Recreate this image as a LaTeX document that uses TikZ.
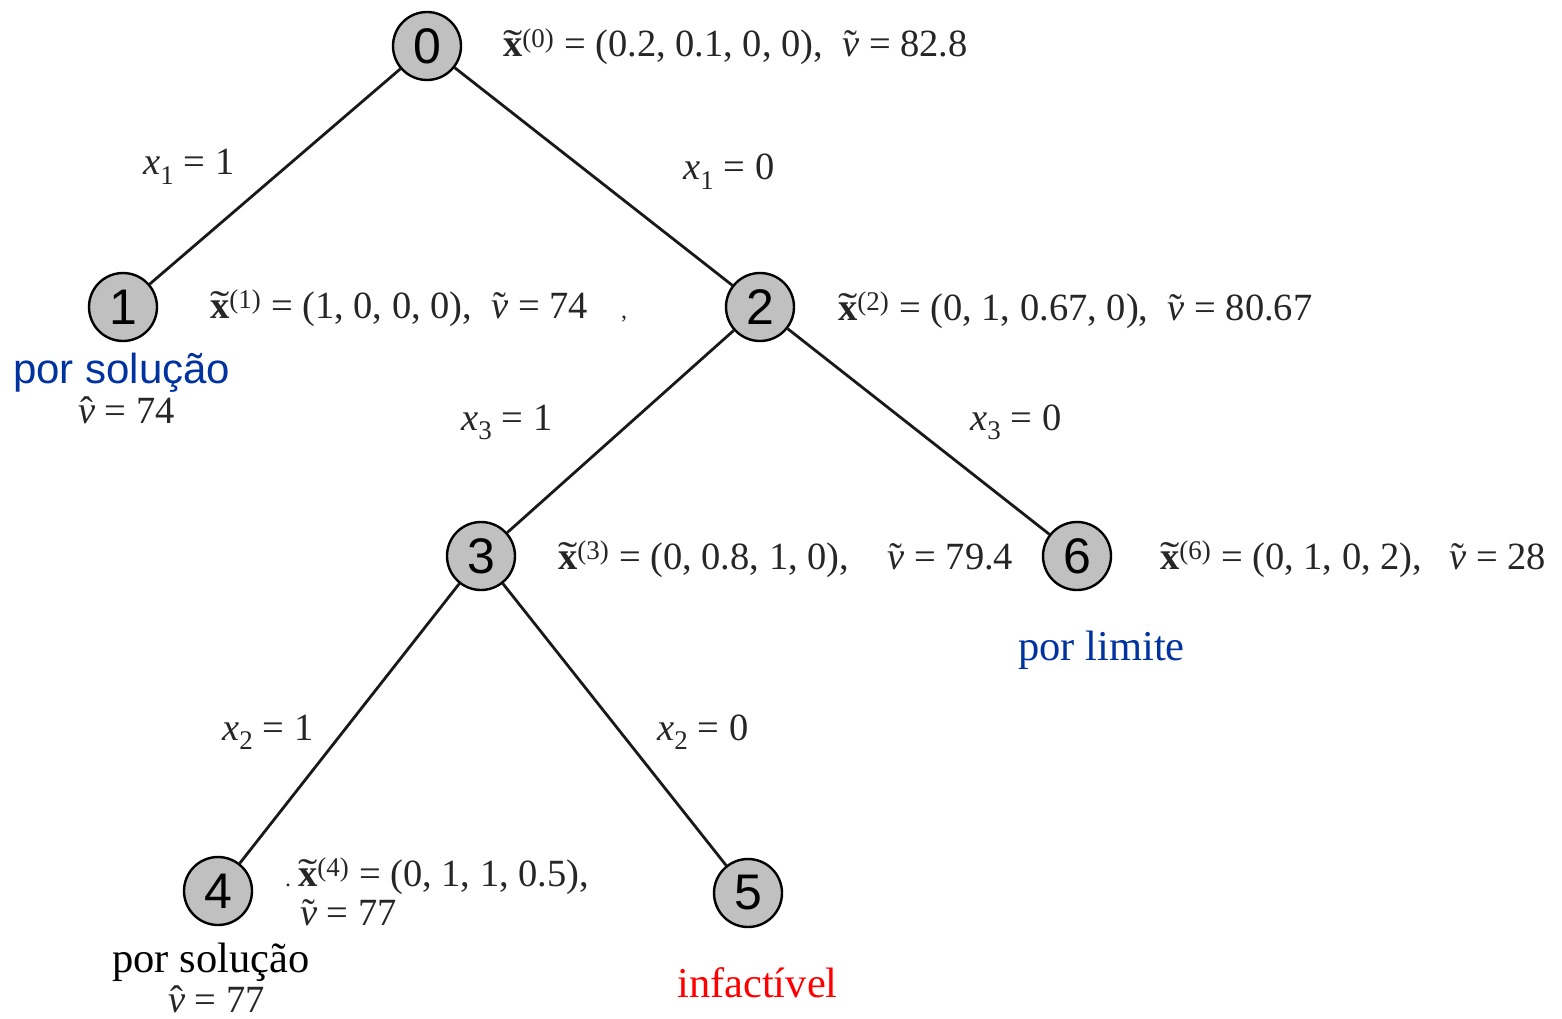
\documentclass[tikz,border=0pt]{standalone}
\usepackage{graphicx}
\usepackage{fontspec}
\setmainfont{Liberation Serif}
\newfontfamily\arialf{Liberation Sans}
\definecolor{nodegray}{RGB}{192,192,192}
\definecolor{lblue}{RGB}{0,51,160}
\definecolor{lred}{RGB}{255,0,0}
\newcommand\topacc[3]{\leavevmode\setbox0\hbox{#3}\rlap{\hbox to\wd0{\hss\raisebox{#1}{#2}\hss}}\box0}
\newcommand\xv[1]{\topacc{0.02em}{\scalebox{1.5}[1]{˜}}{\textbf{x}}\textsuperscript{(#1)}}
\newcommand\vtl{\topacc{0em}{˜}{\textit{v}}}
\newcommand\vhat{\topacc{0em}{ˆ}{\textit{v}}}
\newcommand\xs[1]{\textit{x}\textsubscript{#1}}
\begin{document}
\begin{tikzpicture}[x=1pt,y=-1pt,
  bb/.style={circle,draw=black,line width=2.4pt,fill=nodegray,minimum size=68pt,inner sep=0pt,font=\arialf\fontsize{50}{50}\selectfont},
  edge/.style={line width=2.8pt,draw=black!90},
  mt/.style={anchor=base west,inner sep=0pt,font=\fontsize{38.5}{44}\selectfont,text=black!85},
  note/.style={anchor=base west,inner sep=0pt,font=\fontsize{42.5}{48}\selectfont}]
\useasboundingbox[fill=white] (0,0) rectangle (1562,1019);
\node[bb] (n0) at (427,46) {0};
\node[bb] (n1) at (123,307) {1};
\node[bb] (n2) at (760,307) {2};
\node[bb] (n3) at (481,556) {3};
\node[bb] (n6) at (1077,556) {6};
\node[bb] (n4) at (218,891) {4};
\node[bb] (n5) at (748,893) {5};
\draw[edge] (n0) -- (n1);
\draw[edge] (n0) -- (n2);
\draw[edge] (n2) -- (n3);
\draw[edge] (n2) -- (n6);
\draw[edge] (n3) -- (n4);
\draw[edge] (n3) -- (n5);
% edge labels
\node[mt] (e01) at (143,175) {\xs{1} = 1};
\node[mt] (e02) at (683,180) {\xs{1} = 0};
\node[mt] (e23) at (461,430) {\xs{3} = 1};
\node[mt] (e26) at (970,430) {\xs{3} = 0};
\node[mt] (e34) at (222,740) {\xs{2} = 1};
\node[mt] (e35) at (657,740) {\xs{2} = 0};
% node labels
\node[mt] (l0) at (503,57) {\xv{0} = (0.2, 0.1, 0, 0),\ \ \vtl{} = 82.8};
\node[mt] (l1) at (210,318) {\xv{1} = (1, 0, 0, 0),\ \ \vtl{} = 74};
\node[mt] (l1c) at (621,318) {\fontsize{24}{24}\selectfont ,};
\node[mt] (l2) at (838,320) {\xv{2} = (0, 1, 0.67, 0),\ \ \vtl{} = 80.67};
\node[mt] (l3) at (558,569) {\xv{3} = (0, 0.8, 1, 0),\quad \vtl{} = 79.4};
\node[mt] (l6) at (1160,569) {\xv{6} = (0, 1, 0, 2),\hspace{0.7em}\vtl{} = 28};
\node[mt] (l4a) at (298,886) {\xv{4} = (0, 1, 1, 0.5),};
\node[mt] (l4d) at (285,886) {\fontsize{24}{24}\selectfont .};
\node[mt] (l4b) at (300,925) {\vtl{} = 77};
% status notes
\node[note,text=lblue,font=\arialf\fontsize{42}{48}\selectfont] (s1) at (13,383) {por solução};
\node[mt] (v1) at (78,423) {\vhat{} = 74};
\node[note,text=lblue] (s6) at (1018,660) {por limite};
\node[note,text=black] (s4) at (112,972) {por solução};
\node[mt] (v4) at (168,1012) {\vhat{} = 77};
\node[note,text=lred] (s5) at (677,997) {infactível};
\end{tikzpicture}
\end{document}
